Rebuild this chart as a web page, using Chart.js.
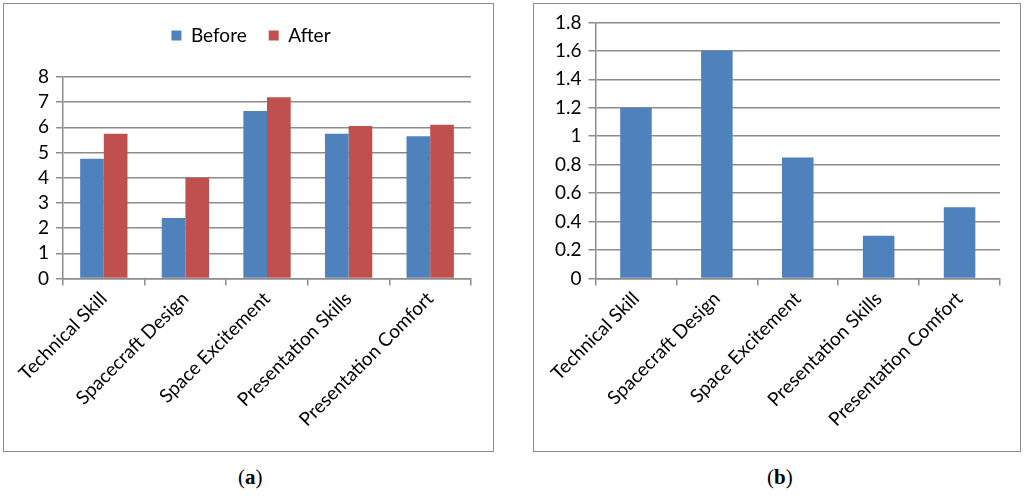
<!DOCTYPE html>
<html>
<head>
<meta charset="utf-8">
<script src="https://cdn.jsdelivr.net/npm/chart.js@4.4.0/dist/chart.umd.min.js"></script>
<style>
  body { margin: 0; background: #fff; width: 1024px; height: 500px; position: relative; overflow: hidden; }
  .box { position: absolute; top: 3px; height: 449px; border: 1.5px solid #8c8c8c; box-sizing: border-box; }
  #boxA { left: 3px; width: 491px; }
  #boxB { left: 533px; width: 488px; }
  .cap { position: absolute; top: 465px; font-family: "Liberation Serif", serif; font-size: 21px; }
  .cap b { font-weight: bold; }
</style>
</head>
<body>
<div class="box" id="boxA"><canvas id="chartA"></canvas></div>
<div class="box" id="boxB"><canvas id="chartB"></canvas></div>
<div class="cap" style="left:238px">(<b>a</b>)</div>
<div class="cap" style="left:767px">(<b>b</b>)</div>
<script>
// categories and values
var categories = ["Technical Skill", "Spacecraft Design", "Space Excitement", "Presentation Skills", "Presentation Comfort"];
var before = [4.75, 2.4, 6.65, 5.75, 5.65];
var after = [5.75, 4.0, 7.2, 6.05, 6.1];
var change = [1.2, 1.6, 0.85, 0.3, 0.5];
var ticksA = [0, 1, 2, 3, 4, 5, 6, 7, 8];
var ticksB = [0, 0.2, 0.4, 0.6, 0.8, 1, 1.2, 1.4, 1.6, 1.8];

var blue = '#4f81bd';
var red = '#c0504d';
var gridColor = '#8c8c8c';

Chart.defaults.font.family = 'Lato';
Chart.defaults.color = '#000';
Chart.defaults.animation = false;

function xAxis() {
  return {
    grid: { drawOnChartArea: false, drawTicks: true, tickLength: 7, color: gridColor, lineWidth: 1.5, offset: true },
    border: { color: gridColor, width: 1.5 },
    ticks: { minRotation: 45, maxRotation: 45, font: { size: 19 }, padding: 2, autoSkip: false }
  };
}

function yAxis(max, tickVals) {
  return {
    min: 0, max: max,
    afterBuildTicks: function(axis) { axis.ticks = tickVals.map(function(v) { return { value: v }; }); },
    grid: { color: gridColor, lineWidth: 1.5, tickLength: 7 },
    border: { color: gridColor, width: 1.5 },
    ticks: {
      font: { size: 19 }, padding: 7, autoSkip: false,
      callback: function(v) { return String(Math.round(v * 10) / 10); }
    }
  };
}

// extra space under the legend
var legendGap = {
  id: 'legendGap',
  beforeInit: function(chart) {
    var fit = chart.legend.fit;
    chart.legend.fit = function() {
      fit.bind(chart.legend)();
      this.height += 22;
    };
  }
};

// (a) before / after
new Chart(document.getElementById("chartA"), {
  type: 'bar',
  data: {
    labels: categories,
    datasets: [
      { label: "Before", backgroundColor: blue, data: before, barPercentage: 1, categoryPercentage: 0.58 },
      { label: "After", backgroundColor: red, data: after, barPercentage: 1, categoryPercentage: 0.58 }
    ]
  },
  options: {
    responsive: true,
    maintainAspectRatio: false,
    layout: { padding: { left: 27, right: 22, top: 0, bottom: 18 } },
    plugins: {
      legend: {
        display: true,
        position: 'top',
        labels: { boxWidth: 10, boxHeight: 10, font: { size: 19 }, padding: 22 }
      },
      tooltip: { enabled: false }
    },
    scales: { x: xAxis(), y: yAxis(8, ticksA) }
  },
  plugins: [legendGap]
});

// (b) change
new Chart(document.getElementById("chartB"), {
  type: 'bar',
  data: {
    labels: categories,
    datasets: [
      { label: "Change", backgroundColor: blue, data: change, barPercentage: 0.39, categoryPercentage: 1 }
    ]
  },
  options: {
    responsive: true,
    maintainAspectRatio: false,
    layout: { padding: { left: 14, right: 20, top: 18, bottom: 18 } },
    plugins: { legend: { display: false }, tooltip: { enabled: false } },
    scales: { x: xAxis(), y: yAxis(1.8, ticksB) }
  }
});
</script>
</body>
</html>
